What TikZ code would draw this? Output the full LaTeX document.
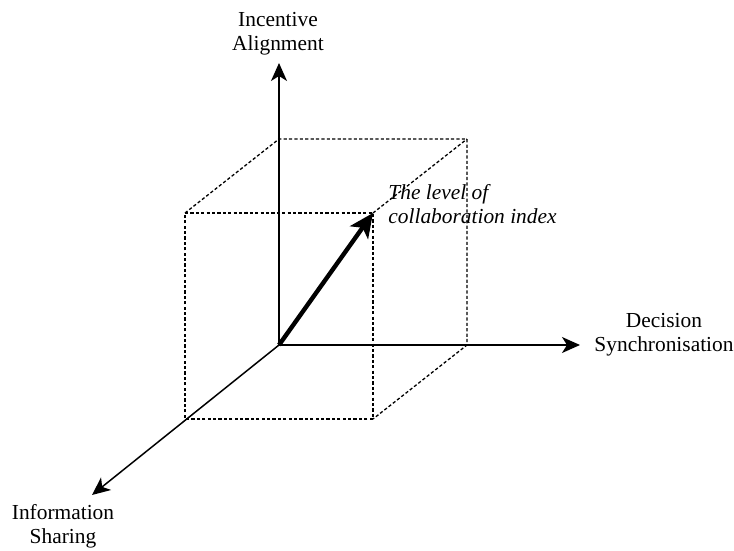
\documentclass[tikz,border=0pt]{standalone}
\usepackage{fontspec}
\setmainfont{Liberation Serif}
\usetikzlibrary{arrows.meta}

\begin{document}
\begin{tikzpicture}[x=0.5pt, y=-0.5pt,
  axis/.style={-{Stealth[length=9pt, width=8pt, inset=2.5pt]}, line width=0.75pt},
  hidden/.style={dash pattern=on 1.6pt off 1.1pt, line width=0.65pt},
  lbl/.style={align=center, font=\fontsize{10.7}{12}\selectfont, inner sep=0pt},
  index/.style={-{Stealth[length=12pt, width=11pt, inset=3pt]}, line width=2.2pt}
]
  \useasboundingbox (0,0) rectangle (734,551);
  % cube corners, front face and back face
  \coordinate (O)   at (279,345);
  \coordinate (ftl) at (185,213);
  \coordinate (ftr) at (373,213);
  \coordinate (fbl) at (185,419);
  \coordinate (fbr) at (373,419);
  \coordinate (btl) at (279,139);
  \coordinate (btr) at (467,139);
  \coordinate (bbr) at (467,345);
  % axis ends
  \coordinate (up)    at (279,63);
  \coordinate (right) at (580,345);
  \coordinate (front) at (92,495);

  \node[lbl] (incentive)   at (278,34)  {Incentive\\Alignment};
  \node[lbl] (decision)    at (664,335) {Decision\\Synchronisation};
  \node[lbl] (information) at (63,526)  {Information\\Sharing};
  \node[lbl, align=left, anchor=west, font=\fontsize{10.7}{12}\selectfont\itshape]
    (level) at (388,204) {The level of\\collaboration index};

  \draw[hidden] (ftl) -- (ftr) -- (fbr) -- (fbl) -- cycle;
  \draw[hidden] (ftl) -- (btl) -- (btr) -- (bbr) -- (fbr);
  \draw[hidden] (ftr) -- (btr);

  \draw[axis] (O) -- (up);
  \draw[axis] (O) -- (right);
  \draw[axis] (O) -- (front);
  \draw[index] (O) -- (ftr);
\end{tikzpicture}
\end{document}
